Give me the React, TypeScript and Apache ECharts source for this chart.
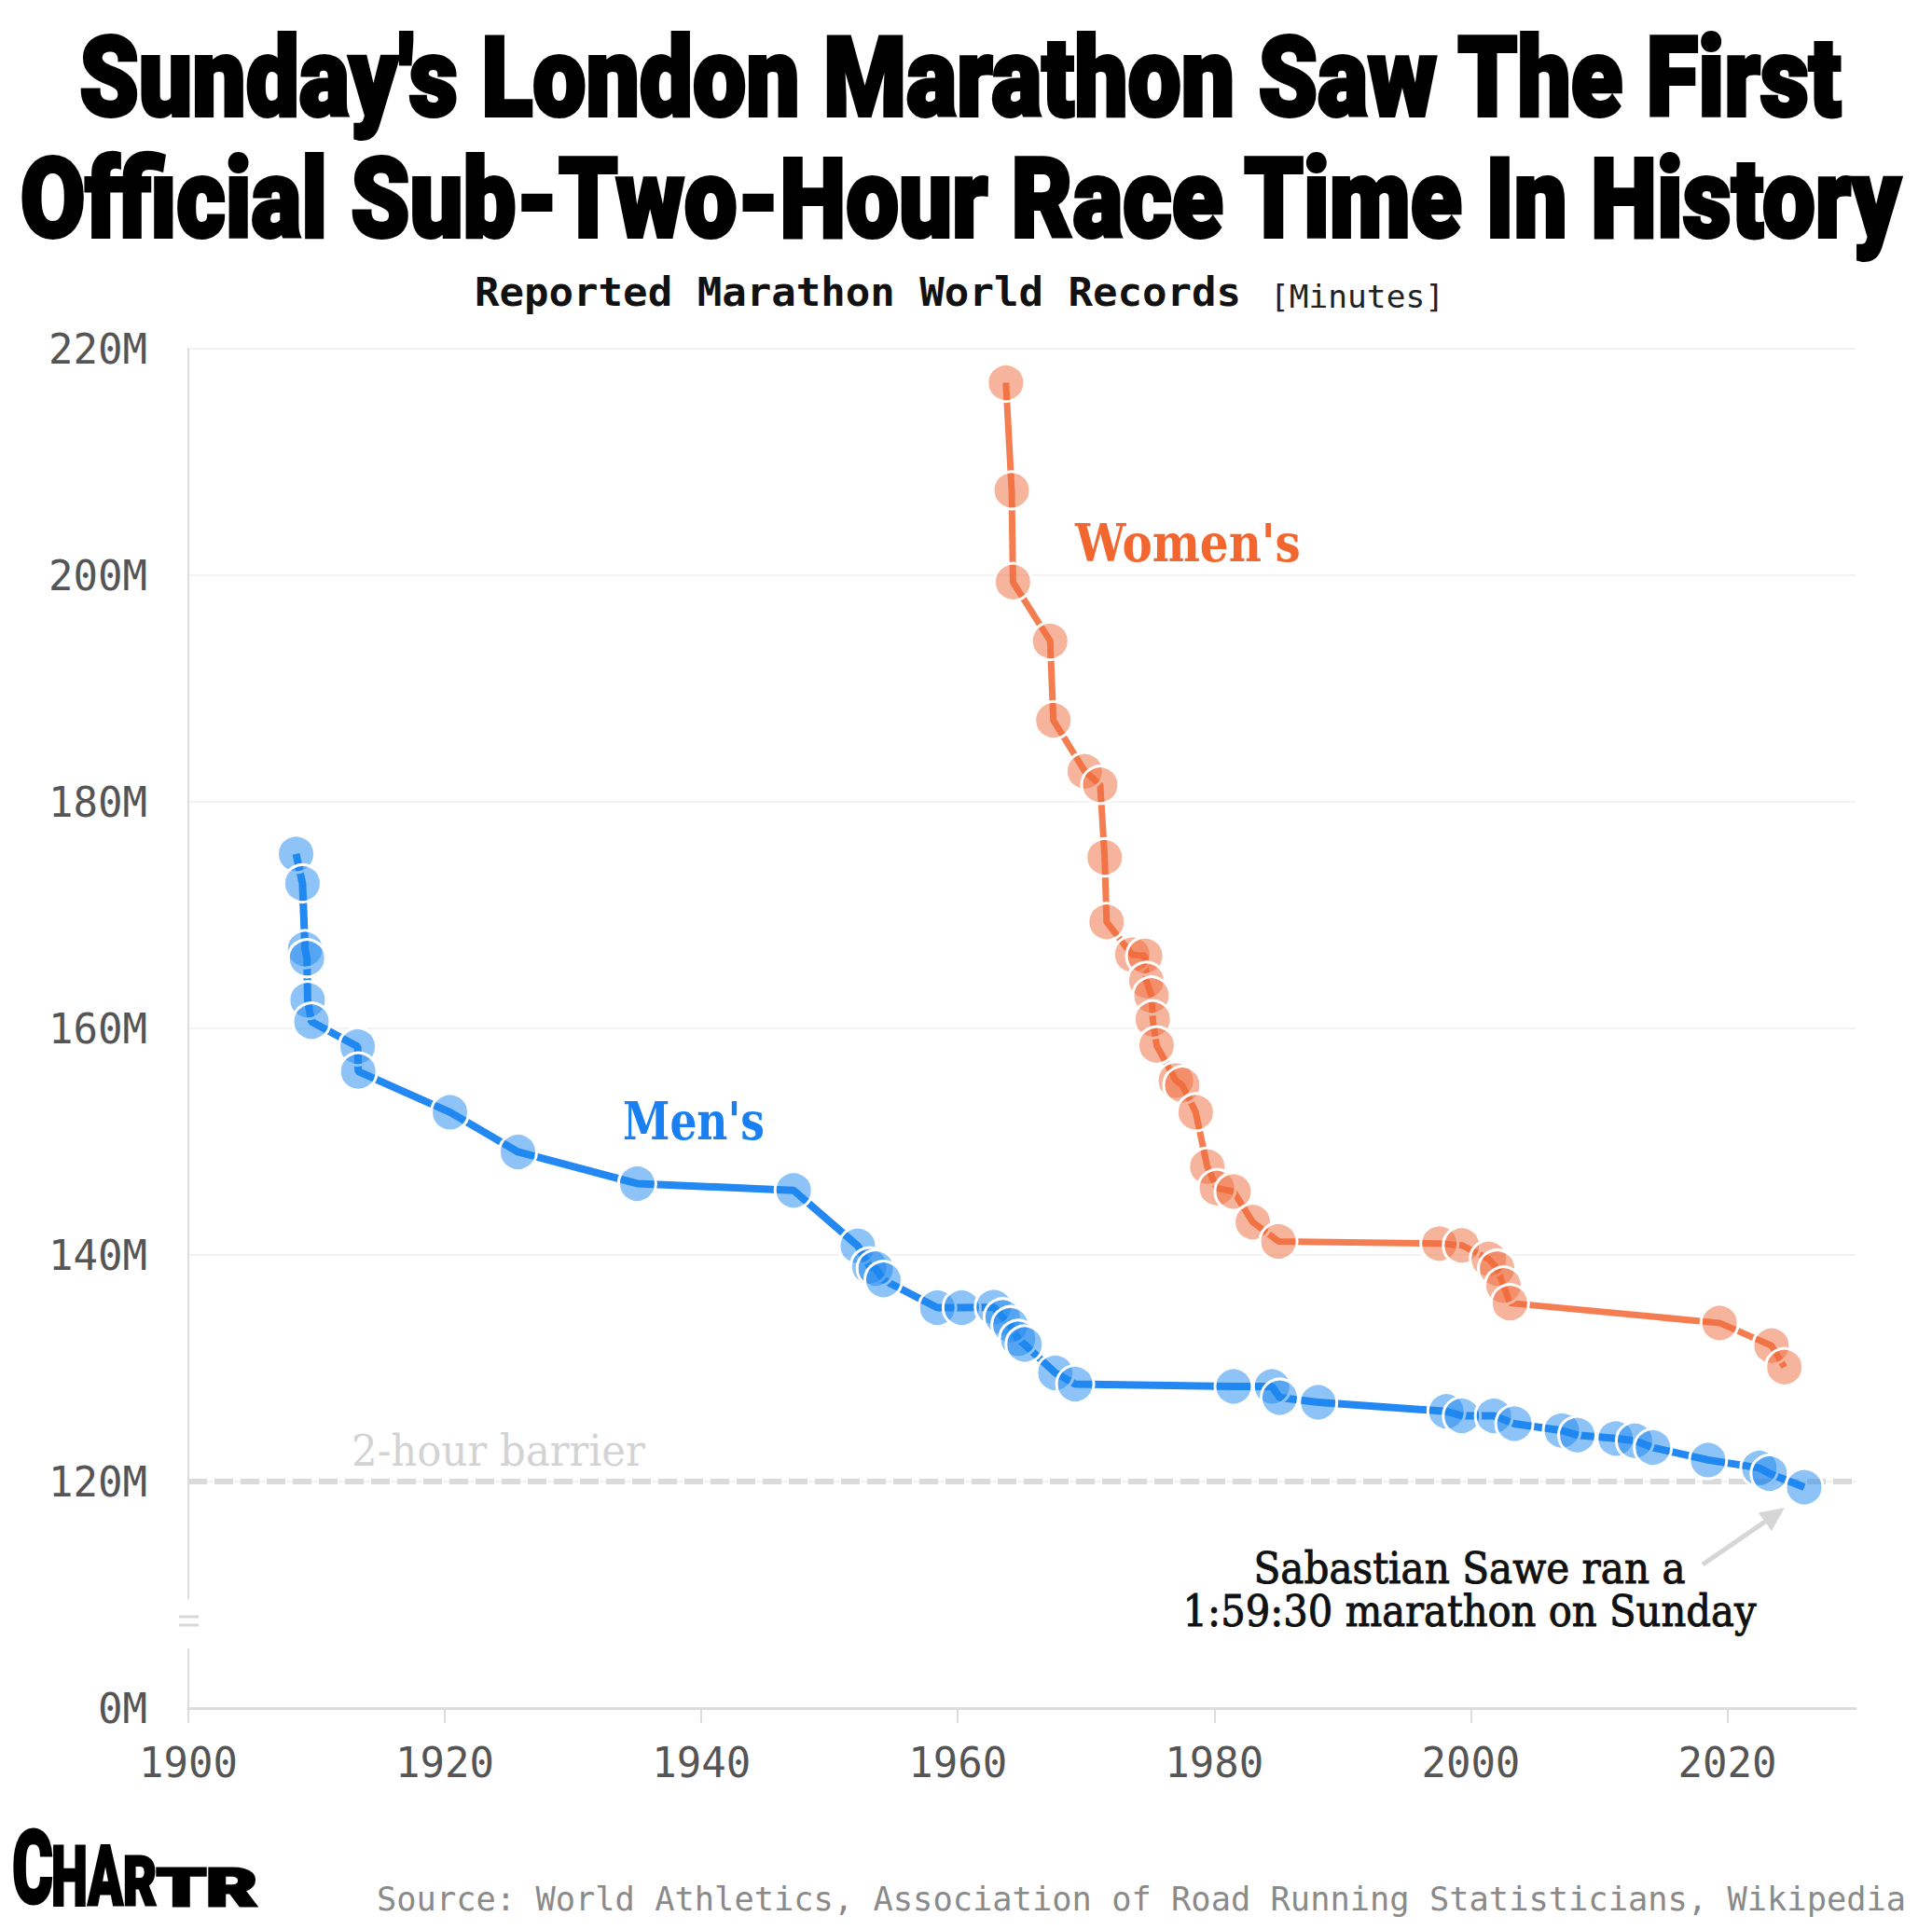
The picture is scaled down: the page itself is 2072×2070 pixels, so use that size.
import React, { useEffect, useRef } from "react";
import * as echarts from "echarts";

// ---- data ----
const menYears = [
  1908.4, 1908.9, 1909.1, 1909.25, 1909.3, 1909.6, 1913.2, 1913.25, 1920.4, 1925.7,
  1935.0, 1947.2, 1952.2, 1953.1, 1953.6, 1954.2, 1958.4, 1960.3, 1962.8, 1963.5,
  1964.1, 1964.7, 1965.2, 1967.6, 1969.15, 1981.5, 1984.5, 1985.1, 1988.1, 1998.1,
  1999.3, 2001.8, 2003.4, 2007.1, 2008.3, 2011.3, 2012.8, 2014.2, 2018.5, 2022.5,
  2023.3, 2026.0,
];
const menMinutes = [
  175.4, 172.8, 167.0, 166.2, 162.5, 160.6, 158.4, 156.2, 152.6, 149.1,
  146.3, 145.7, 140.8, 139.0, 138.8, 137.8, 135.35, 135.35, 135.4, 134.5,
  133.8, 132.6, 132.1, 129.6, 128.6, 128.4, 128.4, 127.4, 127.0, 126.2,
  125.8, 125.8, 125.1, 124.5, 124.1, 123.8, 123.6, 123.0, 121.9, 121.2,
  120.7, 119.5,
];
const womenYears = [
  1963.75, 1964.2, 1964.3, 1967.2, 1967.45, 1969.9, 1971.1, 1971.45, 1971.6, 1973.6,
  1974.6, 1974.7, 1975.1, 1975.2, 1975.5, 1977.0, 1977.5, 1978.55, 1979.45, 1980.2,
  1981.5, 1983.0, 1985.0, 1997.55, 1999.3, 2001.4, 2002.05, 2002.55, 2003.05, 2019.4,
  2023.45, 2024.45,
];
const womenMinutes = [
  217.0, 207.5, 199.4, 194.2, 187.2, 182.7, 181.5, 175.1, 169.4, 166.5,
  166.4, 164.2, 162.9, 160.8, 158.5, 155.4, 155.0, 152.6, 147.8, 145.9,
  145.6, 142.9, 141.2, 141.0, 140.85, 139.65, 138.8, 137.3, 135.75, 134.0,
  132.0, 130.1,
];
const xTicks = [1900, 1920, 1940, 1960, 1980, 2000, 2020];
const yTicks = [100, 120, 140, 160, 180, 200, 220];
const barrierMinutes = 120;
const barrierYears = [1900, 2030.5];

const titleLines = [
  "Sunday's London Marathon Saw The First",
  "Official Sub-Two-Hour Race Time In History",
];
const subtitleMain = "Reported Marathon World Records";
const subtitleUnit = "[Minutes]";
const sourceText =
  "Source: World Athletics, Association of Road Running Statisticians, Wikipedia";
const noteLines = ["Sabastian Sawe ran a", "1:59:30 marathon on Sunday"];

const MONO = '"DejaVu Sans Mono", "Liberation Mono", monospace';
const SERIF = '"DejaVu Serif", "Liberation Serif", serif';
const HEAVY = 'Roboto, "Liberation Sans", Arial, sans-serif';

export default function App() {
  const ref = useRef<HTMLDivElement>(null);

  useEffect(() => {
    document.body.style.margin = "0";
    if (!ref.current) return;
    const chart = echarts.init(ref.current, null, { renderer: "svg" });

    const canvas = document.createElement("canvas");
    const ctx = canvas.getContext("2d") as CanvasRenderingContext2D;
    const measure = (text: string, weight: string | number, size: number, family: string) => {
      ctx.font = `${weight} ${size}px ${family}`;
      return ctx.measureText(text).width || 1;
    };
    const fit = (
      text: string,
      x: number,
      y: number,
      family: string,
      weight: string | number,
      size: number,
      targetW: number,
      fill: string,
      align: "left" | "center" | "right",
      extra: any = {}
    ) => ({
      type: "text",
      x,
      y,
      z: 50,
      silent: true,
      scaleX: targetW / measure(text, weight, size, family),
      style: {
        text,
        fontFamily: family,
        fontWeight: weight,
        fontSize: size,
        fill,
        align,
        verticalAlign: "middle",
        textAlign: align,
        textVerticalAlign: "middle",
        ...extra,
      },
    });

    // arrow geometry (annotation)
    const tip = [1914, 1617];
    const dir = [0.813, -0.582];
    const nrm = [0.582, 0.813];
    const headL = 26;
    const headW = 12;
    const base = [tip[0] - headL * dir[0], tip[1] - headL * dir[1]];

    const heavyStroke = { stroke: "#000", lineWidth: 4 };
    const logoStroke = { stroke: "#000", lineWidth: 3 };

    const graphics: any[] = [
      fit(titleLines[0], 1030, 84, HEAVY, 900, 118, 1893, "#000", "center", heavyStroke),
      fit(titleLines[1], 1030, 214, HEAVY, 900, 118, 2020, "#000", "center", heavyStroke),
      fit(subtitleMain, 509, 313, MONO, "bold", 42, 822, "#111", "left"),
      fit(subtitleUnit, 1362, 318, MONO, "normal", 34, 187, "#222", "left"),
      fit(sourceText, 404, 2036, MONO, "normal", 36, 1640, "#8a8a8a", "left"),
      // logo
      fit("C", 13, 2003, HEAVY, 900, 110, 44, "#000", "left", { lineHeight: 80, ...logoStroke }),
      fit("HA", 55, 2012, HEAVY, 900, 89, 77, "#000", "left", { lineHeight: 64, ...logoStroke }),
      fit("R", 132, 2019, HEAVY, 900, 72, 36, "#000", "left", { lineHeight: 52, ...logoStroke }),
      fit("TR", 168, 2025, HEAVY, 900, 56, 108, "#000", "left", { lineHeight: 40, ...logoStroke }),
      // annotations
      fit("Women's", 1153, 582, SERIF, "bold", 56, 242, "#f2662f", "left"),
      fit("Men's", 668, 1202, SERIF, "bold", 56, 152, "#1a80f2", "left"),
      fit("2-hour barrier", 377, 1556, SERIF, "normal", 47, 315, "#d3d3d3", "left"),
      fit(noteLines[0], 1576, 1682, SERIF, "normal", 46, 463, "#111", "center", {
        stroke: "#111",
        lineWidth: 1,
      }),
      fit(noteLines[1], 1576, 1728, SERIF, "normal", 46, 615, "#111", "center", {
        stroke: "#111",
        lineWidth: 1,
      }),
      {
        type: "line",
        z: 50,
        silent: true,
        shape: { x1: 1826, y1: 1678, x2: base[0], y2: base[1] },
        style: { stroke: "#d6d6d6", lineWidth: 5 },
      },
      {
        type: "polygon",
        z: 50,
        silent: true,
        shape: {
          points: [
            tip,
            [base[0] + headW * nrm[0], base[1] + headW * nrm[1]],
            [base[0] - headW * nrm[0], base[1] - headW * nrm[1]],
          ],
        },
        style: { fill: "#d6d6d6" },
      },
      // axis break marker
      {
        type: "rect",
        z: 60,
        silent: true,
        shape: { x: 194, y: 1715, width: 17, height: 53 },
        style: { fill: "#fff" },
      },
      {
        type: "line",
        z: 61,
        silent: true,
        shape: { x1: 192, y1: 1734, x2: 213, y2: 1734 },
        style: { stroke: "#d8d8d8", lineWidth: 3 },
      },
      {
        type: "line",
        z: 61,
        silent: true,
        shape: { x1: 192, y1: 1743, x2: 213, y2: 1743 },
        style: { stroke: "#d8d8d8", lineWidth: 3 },
      },
    ];

    const option: any = {
      animation: false,
      backgroundColor: "#fff",
      grid: { left: 202, right: 82, top: 374, bottom: 238, containLabel: false },
      xAxis: {
        type: "value",
        min: 1900,
        max: 2030,
        interval: 20,
        axisLine: { show: true, onZero: false, lineStyle: { color: "#dcdcdc", width: 3 } },
        axisTick: {
          show: true,
          length: 16,
          customValues: xTicks,
          lineStyle: { color: "#dcdcdc", width: 2 },
        },
        axisLabel: {
          customValues: xTicks,
          margin: 36,
          fontFamily: MONO,
          fontSize: 44,
          color: "#555",
          formatter: (v: number) => (xTicks.indexOf(v) >= 0 ? String(v) : ""),
        },
        splitLine: { show: false },
      },
      yAxis: {
        type: "value",
        min: yTicks[0],
        max: yTicks[yTicks.length - 1],
        interval: 20,
        axisLine: { show: true, lineStyle: { color: "#dcdcdc", width: 2 } },
        axisTick: { show: false },
        splitLine: { show: true, lineStyle: { color: "#f3f3f3", width: 2 } },
        axisLabel: {
          margin: 44,
          fontFamily: MONO,
          fontSize: 44,
          color: "#555",
          formatter: (v: number) => (v === 100 ? "0M" : `${v}M`),
        },
      },
      series: [
        {
          type: "line",
          name: "barrier",
          data: barrierYears.map((y) => [y, barrierMinutes]),
          z: 1,
          silent: true,
          clip: false,
          symbol: "none",
          lineStyle: { type: [20, 8], color: "#dadada", width: 6 },
        },
        {
          type: "line",
          name: "Women's",
          z: 3,
          data: womenYears.map((y, i) => [y, womenMinutes[i]]),
          symbol: "circle",
          symbolSize: 40,
          showAllSymbol: true,
          lineStyle: { color: "#f47d52", width: 7 },
          itemStyle: { color: "rgba(240,106,58,0.5)", borderColor: "#fff", borderWidth: 3 },
        },
        {
          type: "line",
          name: "Men's",
          z: 4,
          data: menYears.map((y, i) => [y, menMinutes[i]]),
          symbol: "circle",
          symbolSize: 40,
          showAllSymbol: true,
          lineStyle: { color: "#2388f2", width: 8 },
          itemStyle: { color: "rgba(30,135,240,0.5)", borderColor: "#fff", borderWidth: 3 },
        },
      ],
      graphic: { elements: graphics },
    };

    chart.setOption(option);
    return () => chart.dispose();
  }, []);

  return <div ref={ref} style={{ width: 2072, height: 2070 }} />;
}
